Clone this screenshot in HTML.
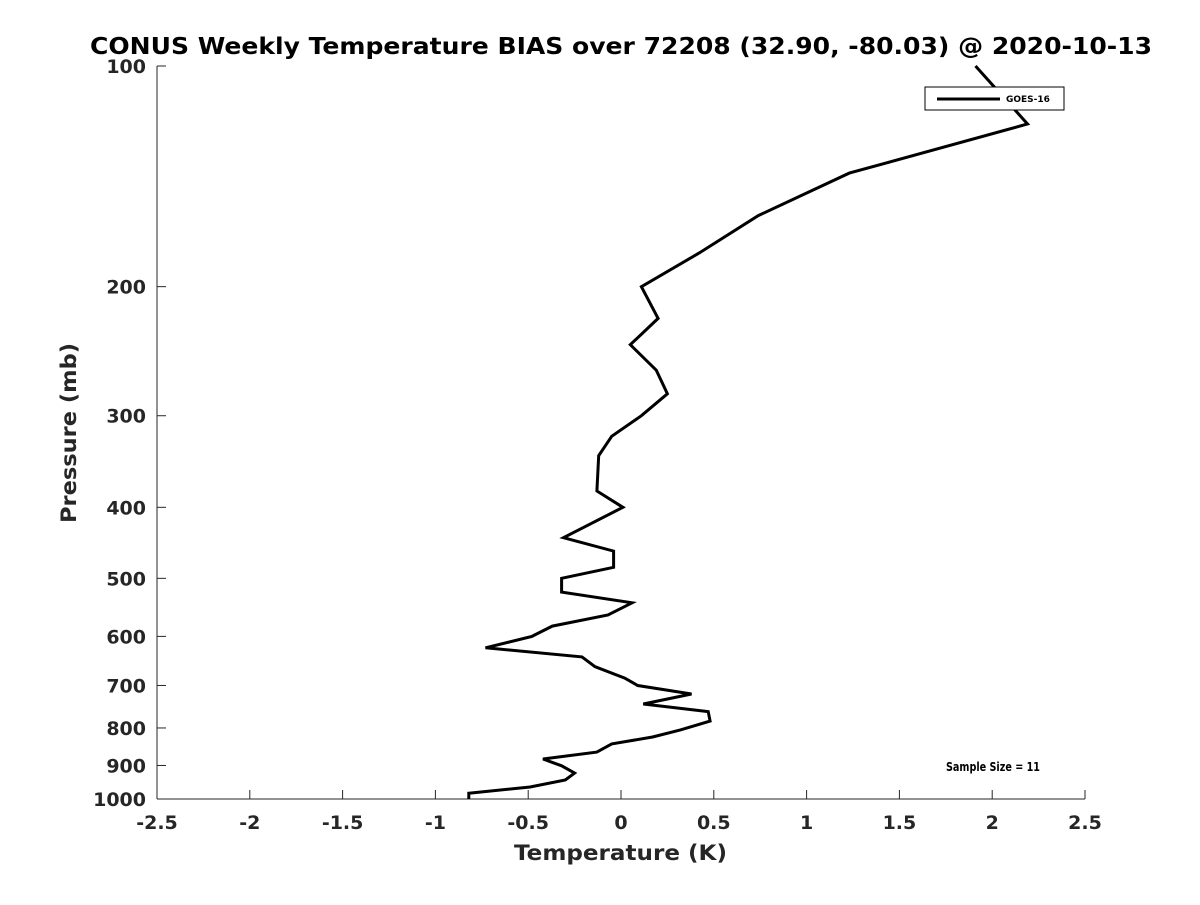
<!DOCTYPE html>
<html><head><meta charset="utf-8"><style>
body{margin:0;background:#fff;}
svg text{font-family:"DejaVu Sans","Liberation Sans",sans-serif;font-weight:bold;fill:#262626;}
</style></head><body>
<svg id="chart" width="1200" height="900" xmlns="http://www.w3.org/2000/svg">
<rect width="1200" height="900" fill="#fff"/>
<text x="90" y="54" textLength="1062" lengthAdjust="spacingAndGlyphs" font-size="23" style="fill:#000">CONUS Weekly Temperature BIAS over 72208 (32.90, -80.03) @ 2020-10-13</text>
<g id="axes"></g>
<polyline id="series" fill="none" stroke="#000" stroke-width="3" stroke-linejoin="miter"/>
<g>
<rect x="925" y="87" width="139" height="23" fill="#fff" stroke="#000" stroke-width="1"/>
<line x1="937" y1="99" x2="1000" y2="99" stroke="#000" stroke-width="3"/>
<text x="1006" y="102" font-size="9" style="fill:#000">GOES-16</text>
</g>
<text x="946" y="771" textLength="94" lengthAdjust="spacingAndGlyphs" font-size="12" style="fill:#000">Sample Size = 11</text>
<text x="514" y="860" textLength="213" lengthAdjust="spacingAndGlyphs" font-size="21">Temperature (K)</text>
<text transform="translate(76,523) rotate(-90)" textLength="180" lengthAdjust="spacingAndGlyphs" font-size="21">Pressure (mb)</text>
</svg>
<script>
const xTicks=[-2.5,-2,-1.5,-1,-0.5,0,0.5,1,1.5,2,2.5];
const xTickLabels=["-2.5","-2","-1.5","-1","-0.5","0","0.5","1","1.5","2","2.5"];
const yTicks=[100,200,300,400,500,600,700,800,900,1000];
const yTickLabels=["100","200","300","400","500","600","700","800","900","1000"];
const biasValues=[1.91,2.19,1.23,0.74,0.42,0.11,0.2,0.05,0.19,0.25,0.11,-0.05,-0.12,-0.13,0.01,-0.31,-0.04,-0.04,-0.32,-0.32,0.06,-0.07,-0.37,-0.48,-0.73,-0.21,-0.14,0.02,0.09,0.38,0.12,0.47,0.48,0.32,0.17,-0.05,-0.13,-0.42,-0.32,-0.25,-0.30,-0.49,-0.82,-0.82];
const pressureLevels=[100,120,140,160,180,200,221,240,260,280,300,320,340,380,400,440,459,483,500,522,540,561,581,600,622,640,660,684,700,719,742,760,783,805,823,841,863,882,901,922,942,963,982,1000];
const X0=157,X1=1085,Y0=66,Y1=799;
function xs(v){return X0+(v+2.5)/5*(X1-X0);}
function ys(p){return Y0+(Math.log10(p)-2)*(Y1-Y0);}
const NS="http://www.w3.org/2000/svg";
const g=document.getElementById('axes');
function mk(t,a){const e=document.createElementNS(NS,t);for(const k in a)e.setAttribute(k,a[k]);g.appendChild(e);return e;}
let ax=mk('line',{x1:X0,y1:Y1,x2:X1,y2:Y1,stroke:'#262626','stroke-width':1});


let ay=mk('line',{x1:X0,y1:Y0,x2:X0,y2:Y1,stroke:'#262626','stroke-width':1});


xTicks.forEach((v,i)=>{const x=xs(v);
mk('line',{x1:x,y1:Y1,x2:x,y2:Y1-9,stroke:'#262626'});
const t=mk('text',{x:x,y:Y1+30,'text-anchor':'middle','font-size':19});t.textContent=xTickLabels[i];

});
yTicks.forEach((p,i)=>{const y=ys(p);
mk('line',{x1:X0,y1:y,x2:X0+9,y2:y,stroke:'#262626'});
const t=mk('text',{x:X0-11,y:y+7,'text-anchor':'end','font-size':19});t.textContent=yTickLabels[i];

});
document.getElementById('series').setAttribute('points',biasValues.map((v,i)=>xs(v).toFixed(1)+','+ys(pressureLevels[i]).toFixed(1)).join(' '));
</script>
</body></html>
